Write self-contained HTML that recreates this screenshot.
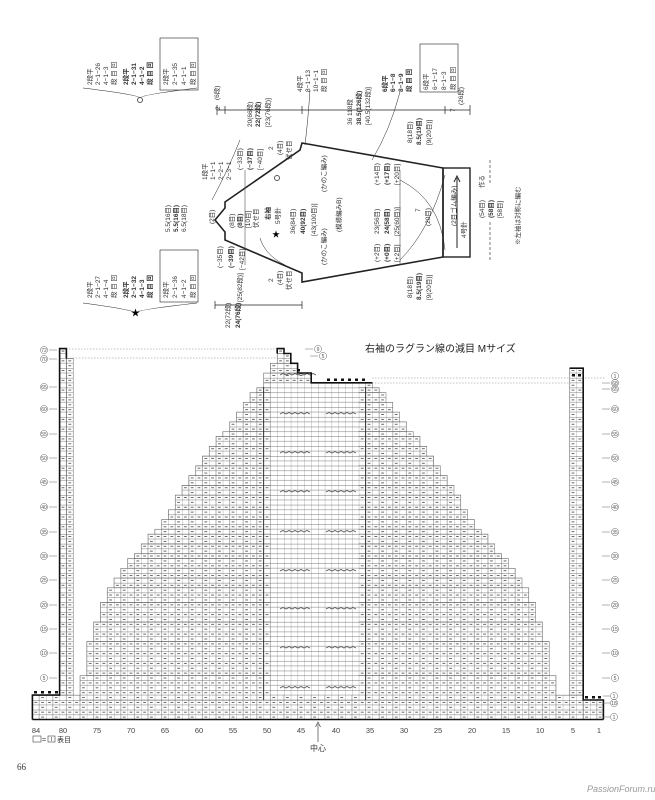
<!DOCTYPE html>
<html><head><meta charset="utf-8"><style>
html,body{margin:0;padding:0;background:#fff;}
svg{display:block;font-family:"Liberation Sans","Noto Sans CJK JP",sans-serif;}
.r text{font-size:6.5px;fill:#333;}
</style></head><body>
<svg width="655" height="800" viewBox="0 0 655 800" xmlns="http://www.w3.org/2000/svg">
<defs>
<pattern id="g" patternUnits="userSpaceOnUse" x="32.4" y="700" width="13.6" height="9.76">
<rect width="13.6" height="9.76" fill="#fff"/>
<path d="M0 4.88H13.6M0 0V9.76M6.8 0V9.76" stroke="#777" stroke-width="0.55" fill="none"/>
<path d="M0 0H13.6" stroke="#555" stroke-width="0.8" fill="none"/>
<path d="M2 2.44H4.8M8.8 7.32H11.6M8.8 2.44H11.6" stroke="#666" stroke-width="0.9"/>
</pattern>
<pattern id="p" patternUnits="userSpaceOnUse" x="32.4" y="700" width="6.8" height="9.76">
<rect width="6.8" height="9.76" fill="#fff"/>
<path d="M0 4.88H6.8M0 0V9.76" stroke="#777" stroke-width="0.55" fill="none"/>
<path d="M0 0H6.8" stroke="#555" stroke-width="0.8" fill="none"/>
</pattern>
</defs>
<rect width="655" height="800" fill="#fff"/>

<!-- ===== SCHEMATIC ===== -->
<g fill="none" stroke="#222">
<polygon points="225,202 300,150 302,143 443,168 443,257 302,282 302,273 225,240 225,232 215,220 225,208" stroke-width="1.6"/>
<rect x="443" y="168" width="27" height="89" stroke-width="1.4"/>
<path d="M457 248V178M454 182L457 176L460 182" stroke-width="1"/>
<path d="M217 110H470M217 105V115M225 106V114M302 106V114M445 106V114M470 105V115" stroke-width="0.7"/>
<path d="M215 305H302M215 301V309M302 301V309" stroke-width="0.7"/>
<path d="M490 160V185M490 222V262" stroke-width="0.6" stroke-dasharray="3,2"/>
<path d="M245 170V265M400 170V265" stroke-width="0.6" stroke="#555"/>
<path d="M240 140Q228 170 212 200" stroke-width="0.5"/>
<path d="M310 90Q308 120 305 145" stroke-width="0.5"/>
<path d="M400 92Q390 130 372 160" stroke-width="0.5"/>
<path d="M400 180Q440 200 445 250" stroke-width="0.5"/>
<path d="M400 260Q430 230 445 175" stroke-width="0.5"/>
<path d="M260 238Q265 255 285 265" stroke-width="0.5"/>
<path d="M83 88Q140 95 140 98Q140 95 197 88" stroke-width="0.6"/>
<path d="M83 303Q135 310 135 313Q135 310 197 303" stroke-width="0.6"/>
<rect x="160" y="38" width="38" height="52" stroke-width="0.6"/>
<rect x="160" y="250" width="38" height="52" stroke-width="0.6"/>
<rect x="420" y="44" width="38" height="48" stroke-width="0.6"/>
</g>
<circle cx="140" cy="100" r="2.5" fill="none" stroke="#555"/>
<circle cx="277" cy="178" r="2.5" fill="none" stroke="#555"/>
<text x="131" y="316" font-size="9">★</text>
<text x="272" y="237" font-size="8">★</text>

<g class="r">
<text transform="translate(92,85) rotate(-90)">2段平</text>
<text transform="translate(100,85) rotate(-90)">2−1−26</text>
<text transform="translate(108,85) rotate(-90)">4−1−3</text>
<text transform="translate(116,85) rotate(-90)">段 目 回</text>
<text transform="translate(128,85) rotate(-90)" font-weight="bold">2段平</text>
<text transform="translate(136,85) rotate(-90)" font-weight="bold">2−1−31</text>
<text transform="translate(144,85) rotate(-90)" font-weight="bold">4−1−2</text>
<text transform="translate(152,85) rotate(-90)" font-weight="bold">段 目 回</text>
<text transform="translate(168,85) rotate(-90)">2段平</text>
<text transform="translate(177,85) rotate(-90)">2−1−35</text>
<text transform="translate(186,85) rotate(-90)">4−1−1</text>
<text transform="translate(195,85) rotate(-90)">段 目 回</text>

<text transform="translate(92,298) rotate(-90)">2段平</text>
<text transform="translate(100,298) rotate(-90)">2−1−27</text>
<text transform="translate(108,298) rotate(-90)">4−1−4</text>
<text transform="translate(116,298) rotate(-90)">段 目 回</text>
<text transform="translate(128,298) rotate(-90)" font-weight="bold">2段平</text>
<text transform="translate(136,298) rotate(-90)" font-weight="bold">2−1−32</text>
<text transform="translate(144,298) rotate(-90)" font-weight="bold">4−1−3</text>
<text transform="translate(152,298) rotate(-90)" font-weight="bold">段 目 回</text>
<text transform="translate(168,298) rotate(-90)">2段平</text>
<text transform="translate(177,298) rotate(-90)">2−1−36</text>
<text transform="translate(186,298) rotate(-90)">4−1−2</text>
<text transform="translate(195,298) rotate(-90)">段 目 回</text>

<text transform="translate(170,232) rotate(-90)">5.5(16目)</text>
<text transform="translate(178,232) rotate(-90)" font-weight="bold">5.5(16目)</text>
<text transform="translate(186,232) rotate(-90)">6.5(18目)</text>
<text transform="translate(214,224) rotate(-90)">(2目)</text>
<text transform="translate(207,180) rotate(-90)">1段平</text>
<text transform="translate(215,180) rotate(-90)">1−1−1</text>
<text transform="translate(223,180) rotate(-90)">2−2−1</text>
<text transform="translate(231,180) rotate(-90)">2−3−1</text>
<text transform="translate(242,170) rotate(-90)">(−33目)</text>
<text transform="translate(252,170) rotate(-90)" font-weight="bold">(−37目)</text>
<text transform="translate(262,170) rotate(-90)">[−40目]</text>
<text transform="translate(273,150) rotate(-90)">2</text>
<text transform="translate(282,155) rotate(-90)">(4目)</text>
<text transform="translate(291,160) rotate(-90)">伏せ目</text>
<text transform="translate(234,228) rotate(-90)">(8目)</text>
<text transform="translate(242,228) rotate(-90)" font-weight="bold">(8目)</text>
<text transform="translate(250,228) rotate(-90)">[10目]</text>
<text transform="translate(258,228) rotate(-90)">伏せ目</text>
<text transform="translate(270,220) rotate(-90)" font-size="11" font-weight="bold">右袖</text>
<text transform="translate(280,224) rotate(-90)">5号針</text>
<text transform="translate(295,234) rotate(-90)">36(84目)</text>
<text transform="translate(305,234) rotate(-90)" font-weight="bold">40(92目)</text>
<text transform="translate(316,236) rotate(-90)">[43(100目)]</text>
<text transform="translate(326,192) rotate(-90)">(かのこ編み)</text>
<text transform="translate(326,265) rotate(-90)">(かのこ編み)</text>
<text transform="translate(341,232) rotate(-90)">(模様編みB)</text>
<text transform="translate(379,185) rotate(-90)">(+14目)</text>
<text transform="translate(389,185) rotate(-90)" font-weight="bold">(+17目)</text>
<text transform="translate(399,185) rotate(-90)">[+20目]</text>
<text transform="translate(379,234) rotate(-90)">23(56目)</text>
<text transform="translate(389,234) rotate(-90)" font-weight="bold">24(58目)</text>
<text transform="translate(399,236) rotate(-90)">[25(60目)]</text>
<text transform="translate(379,262) rotate(-90)">(+2目)</text>
<text transform="translate(389,262) rotate(-90)" font-weight="bold">(+0目)</text>
<text transform="translate(399,262) rotate(-90)">[+2目]</text>
<text transform="translate(420,212) rotate(-90)">7</text>
<text transform="translate(430,226) rotate(-90)">(20目)</text>
<text transform="translate(412,143) rotate(-90)">8(18目)</text>
<text transform="translate(421,145) rotate(-90)" font-weight="bold">8.5(19目)</text>
<text transform="translate(431,145) rotate(-90)">[9(20目)]</text>
<text transform="translate(412,298) rotate(-90)">8(18目)</text>
<text transform="translate(421,300) rotate(-90)" font-weight="bold">8.5(19目)</text>
<text transform="translate(431,300) rotate(-90)">[9(20目)]</text>
<text transform="translate(456,226) rotate(-90)" font-size="9">(2目ゴム編み)</text>
<text transform="translate(466,238) rotate(-90)">4号針</text>
<text transform="translate(484,188) rotate(-90)">作る</text>
<text transform="translate(484,218) rotate(-90)">(54目)</text>
<text transform="translate(493,218) rotate(-90)" font-weight="bold">(58目)</text>
<text transform="translate(502,218) rotate(-90)">[58目]</text>
<text transform="translate(520,245) rotate(-90)" font-size="6">※左袖は対称に編む</text>

<text transform="translate(220,110) rotate(-90)">2</text>
<text transform="translate(219,100) rotate(-90)">(6段)</text>
<text transform="translate(252,127) rotate(-90)">20(66段)</text>
<text transform="translate(260,127) rotate(-90)" font-weight="bold">22(72段)</text>
<text transform="translate(270,127) rotate(-90)">[23(76段)]</text>
<text transform="translate(352,125) rotate(-90)">36 118段</text>
<text transform="translate(361,125) rotate(-90)" font-weight="bold">38.5(126段)</text>
<text transform="translate(370,125) rotate(-90)">[40.5(132段)]</text>
<text transform="translate(455,112) rotate(-90)">7</text>
<text transform="translate(463,105) rotate(-90)">(26段)</text>
<text transform="translate(302,92) rotate(-90)">4段平</text>
<text transform="translate(310,92) rotate(-90)">8−1−13</text>
<text transform="translate(318,92) rotate(-90)">10−1−1</text>
<text transform="translate(326,92) rotate(-90)">段 目 回</text>
<text transform="translate(387,92) rotate(-90)" font-weight="bold">6段平</text>
<text transform="translate(395,92) rotate(-90)" font-weight="bold">6−1−8</text>
<text transform="translate(403,92) rotate(-90)" font-weight="bold">8−1−9</text>
<text transform="translate(411,92) rotate(-90)" font-weight="bold">段 目 回</text>
<text transform="translate(428,90) rotate(-90)">6段平</text>
<text transform="translate(437,90) rotate(-90)">6−1−17</text>
<text transform="translate(446,90) rotate(-90)">8−1−3</text>
<text transform="translate(455,90) rotate(-90)">段 目 回</text>
<text transform="translate(222,268) rotate(-90)">(−35目)</text>
<text transform="translate(233,268) rotate(-90)" font-weight="bold">(−39目)</text>
<text transform="translate(244,270) rotate(-90)">[−42目]</text>
<text transform="translate(273,282) rotate(-90)">2</text>
<text transform="translate(282,285) rotate(-90)">(4目)</text>
<text transform="translate(291,290) rotate(-90)">伏せ目</text>
<text transform="translate(242,302) rotate(-90)">[25(82段)]</text>
<text transform="translate(230,328) rotate(-90)">22(72段)</text>
<text transform="translate(240,328) rotate(-90)" font-weight="bold">24(76段)</text>
</g>

<!-- ===== CHART ===== -->
<text x="365" y="352" font-size="10" fill="#222">右袖のラグラン線の減目 Mサイズ</text>
<g stroke="#888" stroke-width="0.6" stroke-dasharray="1.5,1.5">
<path d="M66 349H277M73 358H277M372 378H606M372 383H570"/>
</g>
<g fill="url(#g)" stroke="#666" stroke-width="0.5">
<rect x="32.4" y="695.12" width="550.8" height="24.4"/>
<rect x="583.2" y="700" width="20.2" height="19.52"/>
<rect x="59.6" y="348.64" width="6.8" height="346.48"/>
<rect x="66.4" y="358.4" width="6.8" height="336.72"/>
<rect x="569.6" y="368.16" width="13.6" height="326.96"/>
<rect x="80" y="675.6" width="476" height="24.4"/>
<rect x="86.8" y="641.44" width="462.4" height="34.16"/>
<rect x="93.6" y="621.92" width="448.8" height="19.52"/>
<rect x="100.4" y="602.4" width="435.2" height="19.52"/>
<rect x="107.2" y="587.76" width="421.6" height="14.64"/>
<rect x="114" y="578" width="408" height="9.76"/>
<rect x="120.8" y="568.24" width="394.4" height="9.76"/>
<rect x="127.6" y="558.48" width="380.8" height="9.76"/>
<rect x="134.4" y="553.6" width="367.2" height="4.88"/>
<rect x="141.2" y="543.84" width="353.6" height="9.76"/>
<rect x="148" y="534.08" width="340" height="9.76"/>
<rect x="154.8" y="529.2" width="326.4" height="4.88"/>
<rect x="161.6" y="519.44" width="312.8" height="9.76"/>
<rect x="168.4" y="509.68" width="299.2" height="9.76"/>
<rect x="175.2" y="495.04" width="285.6" height="14.64"/>
<rect x="182" y="485.28" width="272" height="9.76"/>
<rect x="188.8" y="475.52" width="258.4" height="9.76"/>
<rect x="195.6" y="465.76" width="244.8" height="9.76"/>
<rect x="202.4" y="456" width="231.2" height="9.76"/>
<rect x="209.2" y="446.24" width="217.6" height="9.76"/>
<rect x="216" y="436.48" width="204" height="9.76"/>
<rect x="222.8" y="431.6" width="190.4" height="4.88"/>
<rect x="229.6" y="421.84" width="176.8" height="9.76"/>
<rect x="236.4" y="412.08" width="163.2" height="9.76"/>
<rect x="243.2" y="402.32" width="149.6" height="9.76"/>
<rect x="250" y="392.56" width="136" height="9.76"/>
<rect x="256.8" y="387.68" width="122.4" height="4.88"/>
<rect x="263.6" y="382.8" width="108.8" height="4.88"/>
<rect x="263.6" y="373.04" width="47.6" height="9.76"/>
<rect x="270.4" y="363.28" width="27.2" height="9.76"/>
<rect x="277.2" y="353.52" width="13.6" height="9.76"/>
<rect x="277.2" y="348.64" width="6.8" height="4.88"/>
</g>
<rect x="270.4" y="382.8" width="88.4" height="312.3" fill="url(#p)"/>
<g stroke="#333" stroke-width="1" fill="none">
<path d="M263.6 387V700M365.6 387V700"/>
</g>
<g stroke="#555" stroke-width="0.9" fill="none">
<path d="M280 375l3-1.5 3 1.5 3-1.5 3 1.5 3-1.5 3 1.5 3-1.5 3 1.5 3-1.5 3 1.5 3-1.5 3 1.5"/>
<path d="M280 414l3-1.5 3 1.5 3-1.5 3 1.5 3-1.5 3 1.5 3-1.5 3 1.5 3-1.5 3 1.5M326 414l3-1.5 3 1.5 3-1.5 3 1.5 3-1.5 3 1.5 3-1.5 3 1.5 3-1.5 3 1.5"/>
<path d="M280 453l3-1.5 3 1.5 3-1.5 3 1.5 3-1.5 3 1.5 3-1.5 3 1.5 3-1.5 3 1.5M326 453l3-1.5 3 1.5 3-1.5 3 1.5 3-1.5 3 1.5 3-1.5 3 1.5 3-1.5 3 1.5"/>
<path d="M280 492l3-1.5 3 1.5 3-1.5 3 1.5 3-1.5 3 1.5 3-1.5 3 1.5 3-1.5 3 1.5M326 492l3-1.5 3 1.5 3-1.5 3 1.5 3-1.5 3 1.5 3-1.5 3 1.5 3-1.5 3 1.5"/>
<path d="M280 532l3-1.5 3 1.5 3-1.5 3 1.5 3-1.5 3 1.5 3-1.5 3 1.5 3-1.5 3 1.5M326 532l3-1.5 3 1.5 3-1.5 3 1.5 3-1.5 3 1.5 3-1.5 3 1.5 3-1.5 3 1.5"/>
<path d="M280 571l3-1.5 3 1.5 3-1.5 3 1.5 3-1.5 3 1.5 3-1.5 3 1.5 3-1.5 3 1.5M326 571l3-1.5 3 1.5 3-1.5 3 1.5 3-1.5 3 1.5 3-1.5 3 1.5 3-1.5 3 1.5"/>
<path d="M280 609l3-1.5 3 1.5 3-1.5 3 1.5 3-1.5 3 1.5 3-1.5 3 1.5 3-1.5 3 1.5M326 609l3-1.5 3 1.5 3-1.5 3 1.5 3-1.5 3 1.5 3-1.5 3 1.5 3-1.5 3 1.5"/>
<path d="M280 648l3-1.5 3 1.5 3-1.5 3 1.5 3-1.5 3 1.5 3-1.5 3 1.5 3-1.5 3 1.5M326 648l3-1.5 3 1.5 3-1.5 3 1.5 3-1.5 3 1.5 3-1.5 3 1.5 3-1.5 3 1.5"/>
<path d="M280 688l3-1.5 3 1.5 3-1.5 3 1.5 3-1.5 3 1.5 3-1.5 3 1.5 3-1.5 3 1.5M326 688l3-1.5 3 1.5 3-1.5 3 1.5 3-1.5 3 1.5 3-1.5 3 1.5 3-1.5 3 1.5"/>
</g>
<!-- thick outlines -->
<g stroke="#111" stroke-width="1.6" fill="none">
<path d="M32.4 719.5V695.1H59.6V348.6H66.4V358.4"/>
<path d="M277.2 353.5V348.6H284V353.5H290.8V363.3H297.6V373H311.2V382.8H372.4"/>
<path d="M569.6 368.2H583.2V700H603.4V719.5"/>
<path d="M32.4 719.5H603.4"/>
</g>
<g fill="#111">
<rect x="34" y="691" width="3" height="2.5"/><rect x="41" y="691" width="3" height="2.5"/><rect x="48" y="691" width="3" height="2.5"/><rect x="55" y="691" width="3" height="2.5"/>
<rect x="572" y="374" width="3" height="2.5"/><rect x="578" y="374" width="3" height="2.5"/>
<rect x="585" y="696" width="3" height="2.5"/><rect x="592" y="696" width="3" height="2.5"/><rect x="598" y="696" width="3" height="2.5"/>
<rect x="327" y="378.5" width="3" height="2.5"/><rect x="334" y="378.5" width="3" height="2.5"/><rect x="341" y="378.5" width="3" height="2.5"/><rect x="348" y="378.5" width="3" height="2.5"/><rect x="355" y="378.5" width="3" height="2.5"/><rect x="362" y="378.5" width="3" height="2.5"/>
<rect x="297" y="369" width="3" height="2.5"/>
</g>

<!-- row labels -->
<g font-size="5" fill="#555" text-anchor="middle" stroke-width="0.5">
<g stroke="#666" fill="none">
<circle cx="44" cy="350" r="3.6"/><circle cx="44" cy="359" r="3.6"/><circle cx="44" cy="387" r="3.6"/><circle cx="44" cy="409" r="3.6"/><circle cx="44" cy="434" r="3.6"/><circle cx="44" cy="458" r="3.6"/><circle cx="44" cy="482" r="3.6"/><circle cx="44" cy="507" r="3.6"/><circle cx="44" cy="532" r="3.6"/><circle cx="44" cy="556" r="3.6"/><circle cx="44" cy="580" r="3.6"/><circle cx="44" cy="605" r="3.6"/><circle cx="44" cy="629" r="3.6"/><circle cx="44" cy="653" r="3.6"/><circle cx="44" cy="678" r="3.6"/>
<circle cx="615" cy="376" r="3.6"/><circle cx="615" cy="383" r="3.6"/><circle cx="615" cy="389" r="3.6"/><circle cx="615" cy="409" r="3.6"/><circle cx="615" cy="434" r="3.6"/><circle cx="615" cy="458" r="3.6"/><circle cx="615" cy="482" r="3.6"/><circle cx="615" cy="507" r="3.6"/><circle cx="615" cy="532" r="3.6"/><circle cx="615" cy="556" r="3.6"/><circle cx="615" cy="580" r="3.6"/><circle cx="615" cy="605" r="3.6"/><circle cx="615" cy="629" r="3.6"/><circle cx="615" cy="653" r="3.6"/><circle cx="615" cy="678" r="3.6"/>
<circle cx="614" cy="696" r="3.6"/><circle cx="614" cy="703" r="3.6"/><circle cx="614" cy="717" r="3.6"/>
<circle cx="318" cy="349" r="3.6"/><circle cx="323" cy="356" r="3.6"/>
<path d="M49 350H57M49 359H57M49 387H57M49 409H57M49 434H57M49 458H57M49 482H57M49 507H57M49 532H57M49 556H57M49 580H57M49 605H57M49 629H57M49 653H57M49 678H57"/>
<path d="M602 383H610M602 389H610M602 409H610M602 434H610M602 458H610M602 482H610M602 507H610M602 532H610M602 556H610M602 580H610M602 605H610M602 629H610M602 653H610M602 678H610M603 696H610M603 703H610M603 717H610M305 349H313M310 356H318"/>
</g>
<text x="44" y="352">72</text><text x="44" y="361">70</text><text x="44" y="389">65</text><text x="44" y="411">60</text><text x="44" y="436">55</text><text x="44" y="460">50</text><text x="44" y="484">45</text><text x="44" y="509">40</text><text x="44" y="534">35</text><text x="44" y="558">30</text><text x="44" y="582">25</text><text x="44" y="607">20</text><text x="44" y="631">15</text><text x="44" y="655">10</text><text x="44" y="680">5</text>
<text x="615" y="378">1</text><text x="615" y="385">68</text><text x="615" y="391">65</text><text x="615" y="411">60</text><text x="615" y="436">55</text><text x="615" y="460">50</text><text x="615" y="484">45</text><text x="615" y="509">40</text><text x="615" y="534">35</text><text x="615" y="558">30</text><text x="615" y="582">25</text><text x="615" y="607">20</text><text x="615" y="631">15</text><text x="615" y="655">10</text><text x="615" y="680">5</text>
<text x="614" y="698">1</text><text x="614" y="705">18</text><text x="614" y="719">1</text>
<text x="318" y="351">9</text><text x="323" y="358">5</text>
</g>

<g font-size="7.5" fill="#444" text-anchor="middle">
<text x="36" y="733">84</text><text x="63" y="733">80</text><text x="97" y="733">75</text><text x="131" y="733">70</text><text x="165" y="733">65</text><text x="199" y="733">60</text><text x="233" y="733">55</text><text x="267" y="733">50</text><text x="301" y="733">45</text><text x="336" y="733">40</text><text x="370" y="733">35</text><text x="404" y="733">30</text><text x="438" y="733">25</text><text x="472" y="733">20</text><text x="506" y="733">15</text><text x="540" y="733">10</text><text x="573" y="733">5</text><text x="599" y="733">1</text>
</g>
<path d="M318 742V724M315.5 727L318 722L320.5 727" stroke="#444" stroke-width="0.7" fill="none"/>
<text x="318" y="751" font-size="8" fill="#333" text-anchor="middle">中心</text>
<rect x="33" y="736" width="8" height="6" fill="none" stroke="#444" stroke-width="0.6"/>
<text x="42" y="742" font-size="7" fill="#333">=</text>
<rect x="48" y="736" width="7" height="6" fill="none" stroke="#444" stroke-width="0.6"/>
<path d="M51.5 737V741" stroke="#444" stroke-width="0.6"/>
<text x="57" y="742" font-size="7" fill="#333">表目</text>
<text x="17" y="770" font-size="9" fill="#333" font-family="Liberation Serif, serif">66</text>
<text x="587" y="792" font-size="9" fill="#999" font-style="italic">PassionForum.ru</text>
</svg>
</body></html>
